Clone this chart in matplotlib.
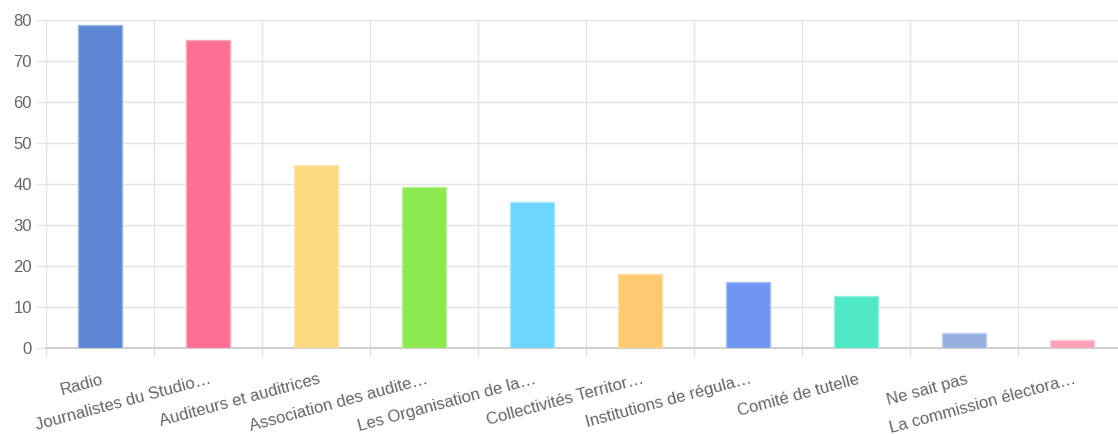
import numpy as np
import matplotlib
matplotlib.use("Agg")
import matplotlib.pyplot as plt
from matplotlib.colors import to_rgb

######## Data #################################################################

categories = ["Radio", "Journalistes du Studio…", "Auditeurs et auditrices",
              "Association des audite…", "Les Organisation de la…",
              "Collectivités Territor…", "Institutions de régula…",
              "Comité de tutelle", "Ne sait pas", "La commission électora…"]
values = [78.7, 75.1, 44.7, 39.3, 35.7, 18.0, 16.2, 12.6, 3.7, 1.9]
colors = ["#5b87d4", "#fd6f93", "#fad97f", "#8ce94f", "#6dd5fd",
          "#fdca72", "#7096f3", "#4fe9c8", "#96b1e0", "#fda2b9"]
yticks = [0, 10, 20, 30, 40, 50, 60, 70, 80]

######## Plot #################################################################

plt.rcParams['font.family'] = ['Liberation Sans', 'DejaVu Sans']
grid_col = "#e3e3e3"
text_col = "#666666"
px = 72 / 100  # points per pixel at dpi 100

fig = plt.figure(figsize=(11.18, 4.34), dpi=100)
# plot area: x 46px -> 1126px (clipped at right), y 20px -> 348px
ax = fig.add_axes([46 / 1118, (434 - 348) / 434, 1080 / 1118, 328 / 434])

x = np.arange(len(categories))
# lighter border like the original
edges = [tuple(0.6 * np.array(to_rgb(c)) + 0.4) for c in colors]
ax.bar(x, values, width=0.4, color=colors, edgecolor=edges, linewidth=1, zorder=3)

ax.set_xlim(-0.5, len(categories) - 0.5)
ax.set_ylim(0, 80)

# y axis
ax.set_yticks(yticks)
ax.tick_params(axis='y', length=10 * px, color=grid_col, labelcolor=text_col,
               labelsize=12, pad=4 * px, width=1)
ax.yaxis.grid(True, color=grid_col, linewidth=1, zorder=0)

# x axis: gridlines between categories
ax.set_xticks(x)
ax.set_xticks(np.arange(-0.5, len(categories)), minor=True)
ax.tick_params(axis='x', which='major', length=0, pad=0)
ax.tick_params(axis='x', which='minor', length=9 * px, color=grid_col, width=1)
ax.xaxis.grid(True, which='minor', color=grid_col, linewidth=1, zorder=0)
ax.set_xticklabels([])

# rotated labels anchored at their right-top end, below each category
for i, lab in enumerate(categories):
    ax.annotate(lab, xy=(i, 0), xycoords='data', xytext=(1, -17),
                textcoords='offset points', rotation=15, ha='right', va='top',
                rotation_mode='anchor', fontsize=12, color=text_col)

for side in ['top', 'right']:
    ax.spines[side].set_visible(False)
ax.spines['left'].set_color(grid_col)
ax.spines['bottom'].set_color("#d0d0d0")
ax.spines['bottom'].set_linewidth(1.5)

plt.savefig('out.png', dpi=100)
